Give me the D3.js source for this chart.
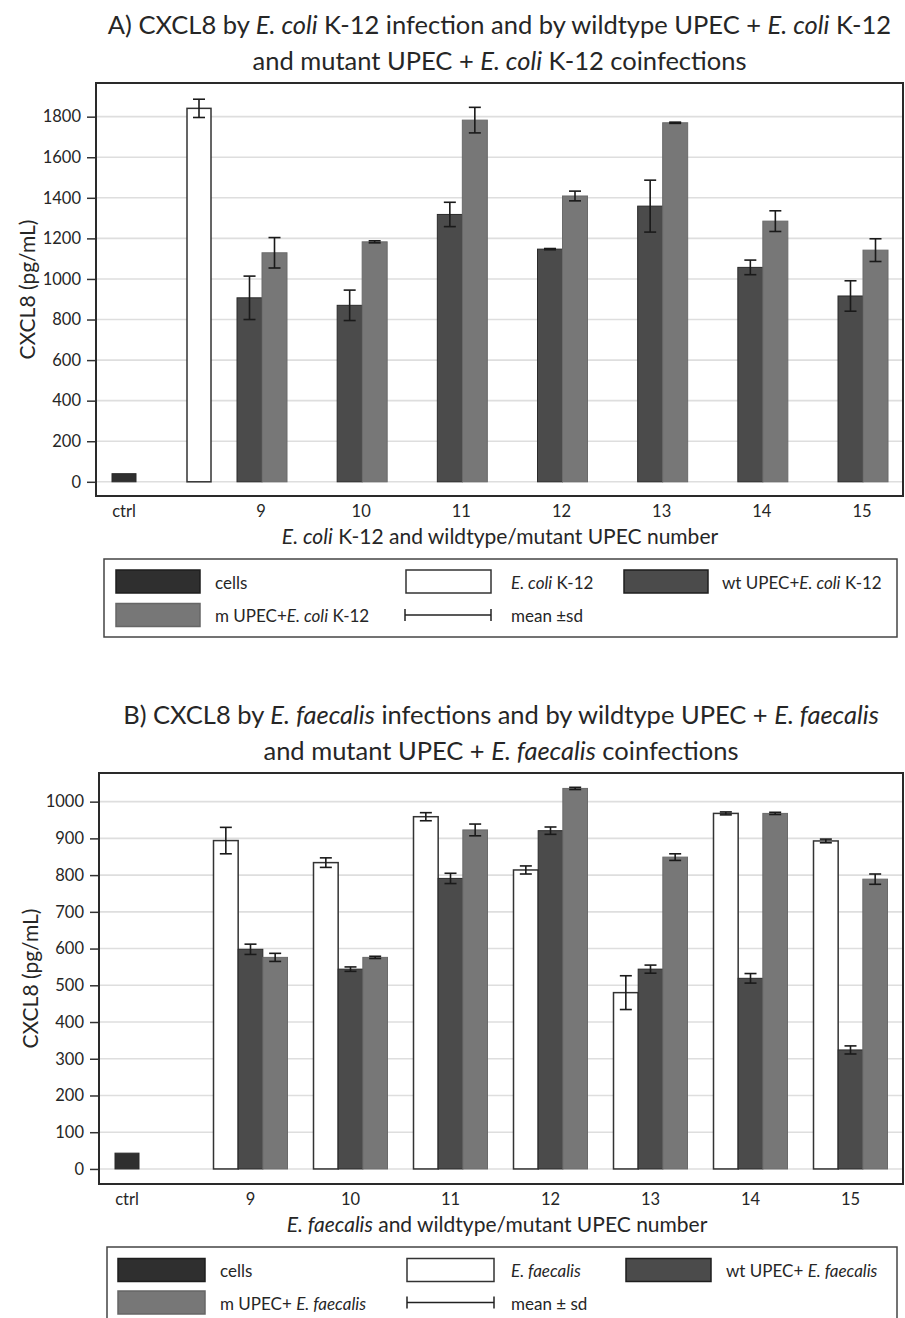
<!DOCTYPE html>
<html><head><meta charset="utf-8">
<script src="https://cdn.jsdelivr.net/npm/d3@7"></script>
<style>
body{margin:0;background:#fff}
svg{display:block}
text{font-family:Lato,"Open Sans",sans-serif;fill:#262626}
</style>
</head><body>
<svg id="c" width="905" height="1318"></svg>
<script>
// ---------- data ----------
const groups = ["9","10","11","12","13","14","15"];
const ctrlLabel = "ctrl";

// Panel A: E. coli K-12
const ctrlA = 40;
const k12A = 1841;
const k12A_sd = 45;
const wtA = [907, 870, 1318, 1147, 1359, 1057, 916];
const wtA_sd = [107, 75, 60, 3, 128, 36, 75];
const mA = [1129, 1183, 1783, 1409, 1770, 1285, 1142];
const mA_sd = [75, 5, 63, 24, 3, 51, 56];
const ticksA = [0, 200, 400, 600, 800, 1000, 1200, 1400, 1600, 1800];

// Panel B: E. faecalis
const ctrlB = 43;
const efB = [894, 834, 959, 814, 480, 968, 893];
const efB_sd = [36, 13, 11, 11, 46, 4, 5];
const wtB = [598, 544, 791, 921, 544, 519, 324];
const wtB_sd = [14, 6, 14, 10, 11, 13, 11];
const mB = [576, 576, 923, 1036, 849, 968, 789];
const mB_sd = [11, 3, 16, 3, 9, 3, 14];
const ticksB = [0, 100, 200, 300, 400, 500, 600, 700, 800, 900, 1000];

// ---------- styles ----------
const COL = {cells:"#2f2f2f", white:"#ffffff", wt:"#4b4b4b", m:"#777777"};
const svg = d3.select("#c");

function rich(sel, parts){
  parts.forEach(p=>{
    sel.append("tspan").text(p[0]).style("font-style", p[1] ? "italic" : "normal");
  });
  return sel;
}

function panel(cfg){
  const g = svg.append("g");
  const F = cfg.frame;
  const y = d3.scaleLinear().domain(cfg.yDomain).range([F.bottom, F.top]);
  const x = d3.scalePoint().domain(groups).range(cfg.xRange);
  const inner = d3.scaleBand().domain(cfg.series.map(s=>s.key)).range(cfg.innerRange);

  // title
  cfg.title.forEach((line,i)=>{
    rich(g.append("text").attr("x", (F.left+F.right)/2).attr("y", cfg.titleY[i])
      .attr("text-anchor","middle").style("font-size","25.5px"), line);
  });

  // grid
  g.append("g").selectAll("line").data(cfg.ticks).join("line")
    .attr("x1", F.left).attr("x2", F.right)
    .attr("y1", d=>y(d)).attr("y2", d=>y(d))
    .attr("stroke","#dedede").attr("stroke-width",1.6);

  // y axis
  const ax = g.append("g").attr("transform",`translate(${F.left},0)`)
    .call(d3.axisLeft(y).tickValues(cfg.ticks).tickSize(9).tickPadding(6).tickFormat(d3.format("d")));
  ax.select(".domain").remove();
  ax.selectAll(".tick line").attr("stroke","#333").attr("stroke-width",1.5);
  ax.selectAll(".tick text").style("font-size","16.5px").style("font-family","Lato,'Open Sans',sans-serif").attr("fill","#262626");

  // y title
  g.append("text").attr("transform",`translate(${cfg.yTitleX},${(F.top+F.bottom)/2}) rotate(-90)`)
    .attr("text-anchor","middle").attr("dominant-baseline","central")
    .style("font-size","21px").text("CXCL8 (pg/mL)");

  // bars data
  const bars = [];
  const errs = [];
  const ctrlX = F.left + 28;
  bars.push({x0: ctrlX-12, x1: ctrlX+12, v: cfg.ctrl, fill: COL.cells});
  if (cfg.single){
    const sx = F.left + 103;
    bars.push({x0: sx-12, x1: sx+12, v: cfg.single.v, fill: COL.white});
    errs.push({x: sx, v: cfg.single.v, sd: cfg.single.sd});
  }
  cfg.series.forEach(s=>{
    groups.forEach((grp,i)=>{
      const x0 = x(grp) + inner(s.key);
      bars.push({x0, x1: x0 + inner.bandwidth(), v: s.v[i], fill: s.fill});
      errs.push({x: x0 + inner.bandwidth()/2, v: s.v[i], sd: s.sd[i]});
    });
  });

  g.append("g").selectAll("rect").data(bars).join("rect")
    .attr("x", d=>d.x0).attr("width", d=>d.x1-d.x0)
    .attr("y", d=>y(d.v)).attr("height", d=>y(0)-y(d.v))
    .attr("fill", d=>d.fill)
    .attr("stroke", d=>d.fill===COL.white ? "#333" : d.fill===COL.m ? "#6a6a6a" : "#2a2a2a")
    .attr("stroke-width", d=>d.fill===COL.white ? 1.5 : 1);

  const eg = g.append("g").attr("stroke","#1a1a1a").attr("stroke-width",1.6);
  errs.forEach(e=>{
    eg.append("line").attr("x1",e.x).attr("x2",e.x).attr("y1",y(e.v+e.sd)).attr("y2",y(e.v-e.sd));
    eg.append("line").attr("x1",e.x-6).attr("x2",e.x+6).attr("y1",y(e.v+e.sd)).attr("y2",y(e.v+e.sd));
    eg.append("line").attr("x1",e.x-6).attr("x2",e.x+6).attr("y1",y(e.v-e.sd)).attr("y2",y(e.v-e.sd));
  });

  // frame
  g.append("rect").attr("x",F.left).attr("y",F.top).attr("width",F.right-F.left).attr("height",F.bottom-F.top)
    .attr("fill","none").attr("stroke","#2a2a2a").attr("stroke-width",2);

  // x labels
  const ly = F.bottom + 15;
  g.append("text").attr("x", ctrlX).attr("y", ly).attr("text-anchor","middle").attr("dominant-baseline","central")
    .style("font-size","16.5px").text(ctrlLabel);
  g.append("g").selectAll("text").data(groups).join("text")
    .attr("x", d=>x(d)+cfg.labelShift).attr("y", ly).attr("text-anchor","middle").attr("dominant-baseline","central")
    .style("font-size","16.5px").text(d=>d);
  rich(g.append("text").attr("x", cfg.xTitleX).attr("y", F.bottom+38.5).attr("text-anchor","middle")
    .attr("dominant-baseline","central").style("font-size","21px"), cfg.xTitle);

  // legend
  const L = cfg.legend;
  g.append("rect").attr("x",L.left).attr("y",L.top).attr("width",L.right-L.left).attr("height",L.bottom-L.top)
    .attr("fill","none").attr("stroke","#444").attr("stroke-width",1.5);
  L.items.forEach(it=>{
    const sw = it.sw;
    if (it.type === "err"){
      const yy = it.row;
      g.append("line").attr("x1",sw[0]).attr("x2",sw[1]).attr("y1",yy).attr("y2",yy).attr("stroke","#222").attr("stroke-width",1.5);
      g.append("line").attr("x1",sw[0]).attr("x2",sw[0]).attr("y1",yy-6).attr("y2",yy+6).attr("stroke","#222").attr("stroke-width",1.5);
      g.append("line").attr("x1",sw[1]).attr("x2",sw[1]).attr("y1",yy-6).attr("y2",yy+6).attr("stroke","#222").attr("stroke-width",1.5);
    } else {
      g.append("rect").attr("x",sw[0]).attr("y",it.row-11.5).attr("width",sw[1]-sw[0]).attr("height",23)
        .attr("fill",it.fill).attr("stroke", it.fill===COL.white ? "#333" : it.fill===COL.m ? "#666" : "#1e1e1e")
        .attr("stroke-width",1.5);
    }
    rich(g.append("text").attr("x",it.tx).attr("y",it.row).attr("dominant-baseline","central")
      .style("font-size","17px"), it.label);
  });
}

// ---------- Panel A ----------
panel({
  frame:{left:96, top:83, right:903, bottom:496},
  yDomain:[-70, 1966],
  ticks: ticksA,
  xRange:[262, 863],
  innerRange:[-25, 25],
  labelShift:-1,
  ctrl: ctrlA,
  single:{v:k12A, sd:k12A_sd},
  series:[
    {key:"wt", v:wtA, sd:wtA_sd, fill:COL.wt},
    {key:"m", v:mA, sd:mA_sd, fill:COL.m}
  ],
  title:[
    [["A) CXCL8 by ",0],["E. coli",1],[" K-12 infection and by wildtype UPEC + ",0],["E. coli",1],[" K-12",0]],
    [["and mutant UPEC + ",0],["E. coli",1],[" K-12 coinfections",0]]
  ],
  titleY:[34, 70],
  yTitleX:26,
  xTitle:[["E. coli",1],[" K-12 and wildtype/mutant UPEC number",0]],
  xTitleX:500,
  legend:{left:104, top:559, right:897, bottom:637,
    items:[
      {row:581.5, sw:[116,200], fill:COL.cells, tx:215, label:[["cells",0]]},
      {row:581.5, sw:[406,491], fill:COL.white, tx:511, label:[["E. coli",1],[" K-12",0]]},
      {row:581.5, sw:[624,708], fill:COL.wt, tx:722, label:[["wt UPEC+",0],["E. coli",1],[" K-12",0]]},
      {row:615, sw:[116,200], fill:COL.m, tx:215, label:[["m UPEC+",0],["E. coli",1],[" K-12",0]]},
      {row:615, sw:[405,491], type:"err", tx:511, label:[["mean ±sd",0]]}
    ]}
});

// ---------- Panel B ----------
panel({
  frame:{left:99, top:773, right:903, bottom:1184},
  yDomain:[-41, 1078],
  ticks: ticksB,
  xRange:[250.5, 850.5],
  innerRange:[-37, 37],
  labelShift:0,
  ctrl: ctrlB,
  single:null,
  series:[
    {key:"ef", v:efB, sd:efB_sd, fill:COL.white},
    {key:"wt", v:wtB, sd:wtB_sd, fill:COL.wt},
    {key:"m", v:mB, sd:mB_sd, fill:COL.m}
  ],
  title:[
    [["B) CXCL8 by ",0],["E. faecalis",1],[" infections and by wildtype UPEC + ",0],["E. faecalis",1]],
    [["and mutant UPEC + ",0],["E. faecalis",1],[" coinfections",0]]
  ],
  titleY:[724, 760],
  yTitleX:29,
  xTitle:[["E. faecalis",1],[" and wildtype/mutant UPEC number",0]],
  xTitleX:497,
  legend:{left:107, top:1247, right:897, bottom:1330,
    items:[
      {row:1270, sw:[118,205], fill:COL.cells, tx:220, label:[["cells",0]]},
      {row:1270, sw:[407,494], fill:COL.white, tx:511, label:[["E. faecalis",1]]},
      {row:1270, sw:[626,711], fill:COL.wt, tx:726, label:[["wt UPEC+ ",0],["E. faecalis",1]]},
      {row:1302.5, sw:[118,205], fill:COL.m, tx:220, label:[["m UPEC+ ",0],["E. faecalis",1]]},
      {row:1302.5, sw:[407,494], type:"err", tx:511, label:[["mean ± sd",0]]}
    ]}
});
</script>
</body></html>
